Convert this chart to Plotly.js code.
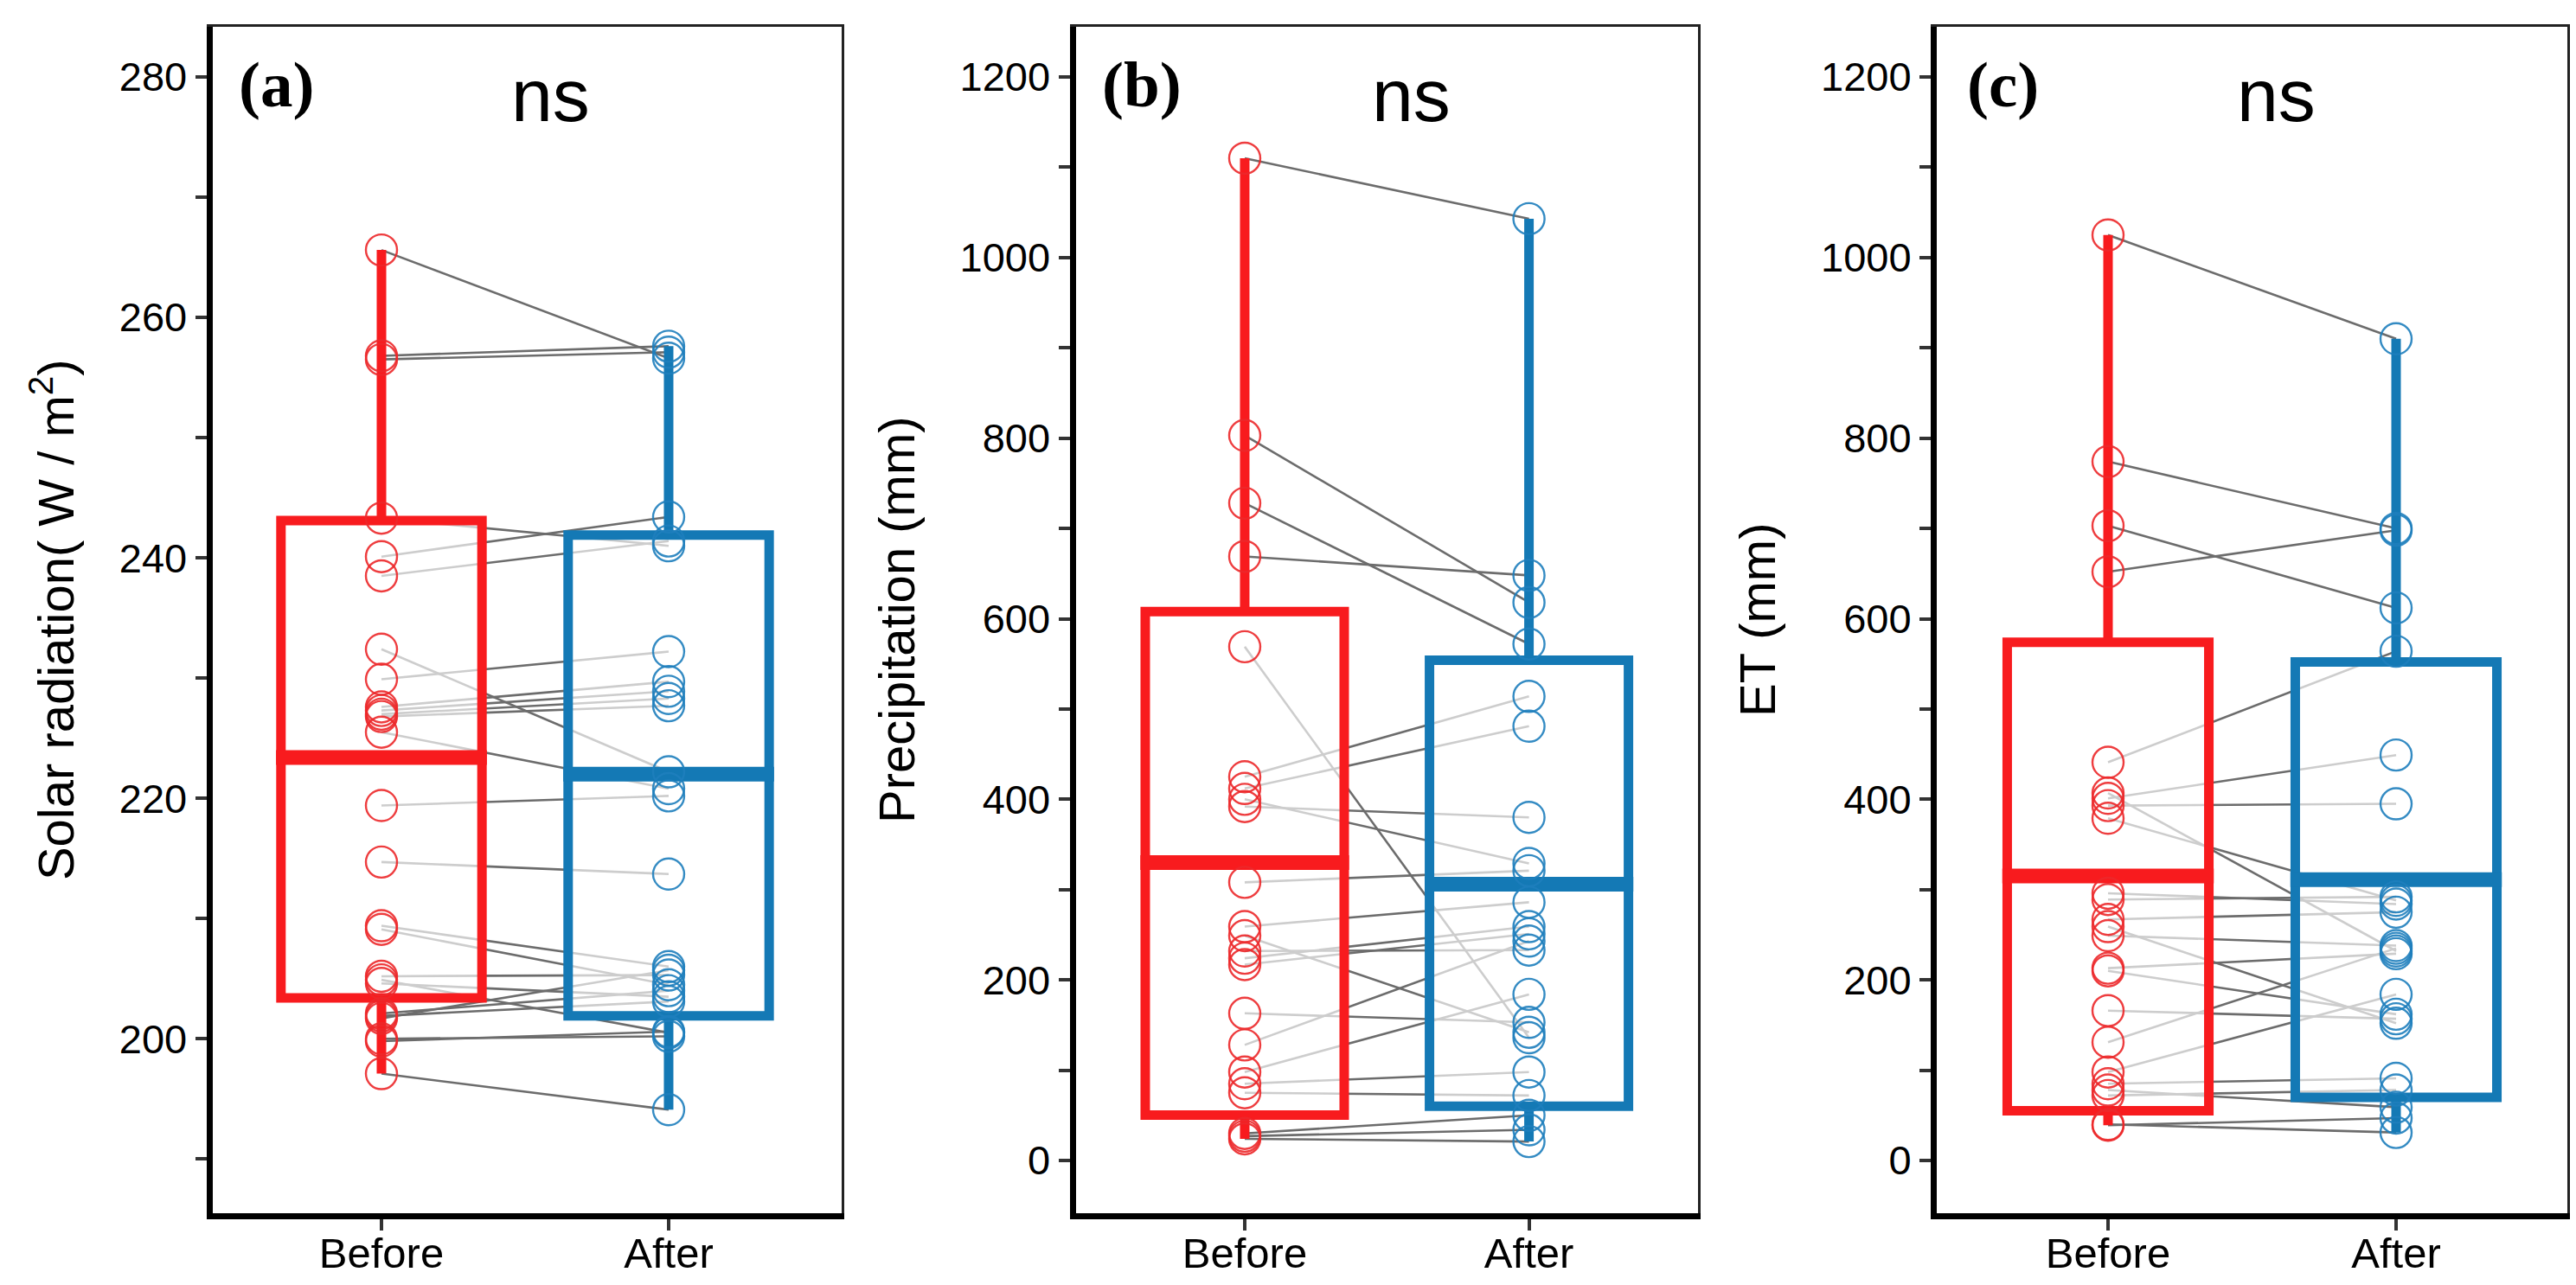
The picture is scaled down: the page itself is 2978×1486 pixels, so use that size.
<!DOCTYPE html>
<html><head><meta charset="utf-8">
<script src="https://cdn.plot.ly/plotly-3.0.1.min.js"></script>
<style>html,body{margin:0;padding:0;background:#fff}#chart{width:2978px;height:1486px}</style>
</head><body><div id="chart"></div>
<script>
// ---- data ----
const groups = ['Before', 'After'];
const panelLabels = ['(a)', '(b)', '(c)'];
const sigLabels = ['ns', 'ns', 'ns'];
const yTitles = ['Solar radiation( W / m<sup>2</sup>)', 'Precipitation (mm)', 'ET (mm)'];

const solarBefore = [265.6, 256.8, 256.5, 243.3, 240.1, 238.5, 232.4, 229.9, 227.6, 227.3, 227.0, 226.8, 225.5, 219.4, 214.7, 209.4, 209.1, 205.2, 204.9, 204.6, 202.1, 201.9, 201.7, 200.0, 199.8, 197.1];
const solarAfter  = [256.6, 257.6, 257.1, 241.0, 243.4, 241.4, 222.2, 232.2, 229.7, 228.9, 228.3, 227.7, 220.8, 220.2, 213.7, 206.0, 204.5, 205.3, 200.5, 203.5, 204.0, 203.1, 205.7, 200.2, 200.6, 194.1];

const precipBefore = [1110, 803, 728, 669, 569, 425, 412, 400, 392, 308, 259, 249, 232, 224, 217, 163, 128, 98, 85, 75, 30, 27, 24];
const precipAfter  = [1043, 618, 572, 648, 136, 514, 481, 329, 380, 321, 286, 142, 233, 259, 251, 153, 243, 184, 98, 72, 50, 34, 21];

const etBefore = [1025, 774, 703, 652, 441, 407, 401, 393, 379, 296, 289, 267, 259, 249, 213, 210, 166, 131, 98, 85, 78, 72, 40, 39];
const etAfter  = [910, 700, 612, 698, 564, 232, 449, 395, 288, 284, 292, 275, 152, 238, 229, 162, 157, 235, 184, 91, 59, 78, 31, 47];

// box statistics: [Before, After]
const solarQ1 = [203.4, 201.9], solarMedian = [223.4, 222.0], solarQ3 = [243.1, 241.9], solarLow = [197.1, 194.1], solarHigh = [265.6, 257.6];
const precipQ1 = [50.4, 60], precipMedian = [330, 306], precipQ3 = [608, 554], precipLow = [24, 21], precipHigh = [1110, 1043];
const etQ1 = [55, 70], etMedian = [315, 311], etQ3 = [574, 552], etLow = [39, 31], etHigh = [1025, 910];

// ---- styling ----
const boxColors = ['#F81B1E', '#1479B5'];
const pointColors = ['rgba(236,40,42,0.9)', 'rgba(30,126,188,0.9)'];
const W = 2978, H = 1486;
const FONT = 'Liberation Sans, Arial, sans-serif';
const panels = [
  {before: solarBefore, after: solarAfter, q1: solarQ1, med: solarMedian, q3: solarQ3, lo: solarLow, hi: solarHigh,
   dom: [245.6, 972.5], xr: [0.4114, 2.601], yr: [185.49, 284.2], dtick: 20, minor: 10, labelX: 319, sigX: 636},
  {before: precipBefore, after: precipAfter, q1: precipQ1, med: precipMedian, q3: precipQ3, lo: precipLow, hi: precipHigh,
   dom: [1243.5, 1963.2], xr: [0.4051, 2.5953], yr: [-58.4, 1256.0], dtick: 200, minor: 100, labelX: 1320, sigX: 1631},
  {before: etBefore, after: etAfter, q1: etQ1, med: etMedian, q3: etQ3, lo: etLow, hi: etHigh,
   dom: [2239, 2967.5], xr: [0.4054, 2.5931], yr: [-58.4, 1256.0], dtick: 200, minor: 100, labelX: 2315, sigX: 2631}
];
const yDom = [1 - 1403 / H, 1 - 30.5 / H];
const boxWidth = 0.7, boxLine = 11;

const traces = [];
const layout = {
  width: W, height: H, margin: {l: 0, r: 0, t: 0, b: 0},
  paper_bgcolor: '#fff', plot_bgcolor: 'rgba(0,0,0,0)',
  showlegend: false, boxmode: 'overlay', annotations: []
};

panels.forEach((p, i) => {
  const n = i + 1, o = i + 4;
  const bx = n === 1 ? 'x' : 'x' + n, by = n === 1 ? 'y' : 'y' + n;
  const ox = 'x' + o, oy = 'y' + o;
  const xd = [p.dom[0] / W, p.dom[1] / W];

  // paired lines (base subplot, beneath the boxes)
  const lx = [], ly = [];
  p.before.forEach((b, k) => { lx.push(1, 2, null); ly.push(b, p.after[k], null); });
  traces.push({type: 'scatter', mode: 'lines', x: lx, y: ly, xaxis: bx, yaxis: by,
    line: {color: '#6c6c6c', width: 2.6}, hoverinfo: 'skip'});

  // boxes (overlay subplot)
  [0, 1].forEach(g => {
    traces.push({type: 'box', orientation: 'v', xaxis: ox, yaxis: oy, x: [g + 1],
      q1: [p.q1[g]], median: [p.med[g]], q3: [p.q3[g]], lowerfence: [p.lo[g]], upperfence: [p.hi[g]],
      width: boxWidth, whiskerwidth: 0, boxpoints: false,
      line: {color: boxColors[g], width: boxLine}, fillcolor: 'rgba(255,255,255,0.66)', hoverinfo: 'skip'});
  });
  // thicker median bars
  [0, 1].forEach(g => {
    const hw = boxWidth / 2 + 0.017;
    traces.push({type: 'scatter', mode: 'lines', xaxis: ox, yaxis: oy,
      x: [g + 1 - hw, g + 1 + hw], y: [p.med[g], p.med[g]],
      line: {color: boxColors[g], width: 17}, hoverinfo: 'skip'});
  });
  // points
  [p.before, p.after].forEach((vals, g) => {
    traces.push({type: 'scatter', mode: 'markers', xaxis: ox, yaxis: oy,
      x: vals.map(() => g + 1), y: vals,
      marker: {symbol: 'circle-open', size: 36, color: pointColors[g], line: {width: 2.4}}, hoverinfo: 'skip'});
  });

  const xName = n === 1 ? 'xaxis' : 'xaxis' + n, yName = n === 1 ? 'yaxis' : 'yaxis' + n;
  layout[xName] = {domain: xd, range: p.xr, anchor: by, tickvals: [1, 2], ticktext: groups,
    ticks: 'outside', ticklen: 13, tickwidth: 4, tickcolor: '#333', ticklabelstandoff: -16,
    showline: true, linewidth: 7, linecolor: '#000', showgrid: false, zeroline: false,
    tickfont: {family: FONT, size: 49, color: '#000'}, fixedrange: true};
  layout[yName] = {domain: yDom, range: p.yr, anchor: bx, tick0: 0, dtick: p.dtick,
    ticks: 'outside', ticklen: 13, tickwidth: 4, tickcolor: '#333',
    minor: {tick0: 0, dtick: p.minor, ticks: 'outside', ticklen: 13, tickwidth: 4, tickcolor: '#333', showgrid: false},
    showline: true, linewidth: 7, linecolor: '#000', showgrid: false, zeroline: false,
    tickfont: {family: FONT, size: 47, color: '#000'}, fixedrange: true,
    title: {text: yTitles[i], font: {family: FONT, size: 58, color: '#000'}, standoff: 36}};
  layout['xaxis' + o] = {overlaying: bx, anchor: oy, side: 'top', range: p.xr,
    showline: true, linewidth: 3, linecolor: '#222', ticks: '', showticklabels: false,
    showgrid: false, zeroline: false, fixedrange: true};
  layout['yaxis' + o] = {overlaying: by, anchor: ox, side: 'right', range: p.yr,
    showline: true, linewidth: 3, linecolor: '#222', ticks: '', showticklabels: false,
    showgrid: false, zeroline: false, fixedrange: true};

  layout.annotations.push({xref: 'paper', yref: 'paper', x: p.labelX / W, y: 1 - 97.5 / H,
    xanchor: 'center', yanchor: 'middle', showarrow: false, text: '<b>' + panelLabels[i] + '</b>',
    font: {family: 'Liberation Serif, Times New Roman, serif', size: 75, color: '#000'}});
  layout.annotations.push({xref: 'paper', yref: 'paper', x: p.sigX / W, y: 1 - 110 / H,
    xanchor: 'center', yanchor: 'middle', showarrow: false, text: sigLabels[i],
    font: {family: FONT, size: 86, color: '#000'}});
});

Plotly.newPlot('chart', traces, layout, {displayModeBar: false, staticPlot: true});
</script></body></html>
